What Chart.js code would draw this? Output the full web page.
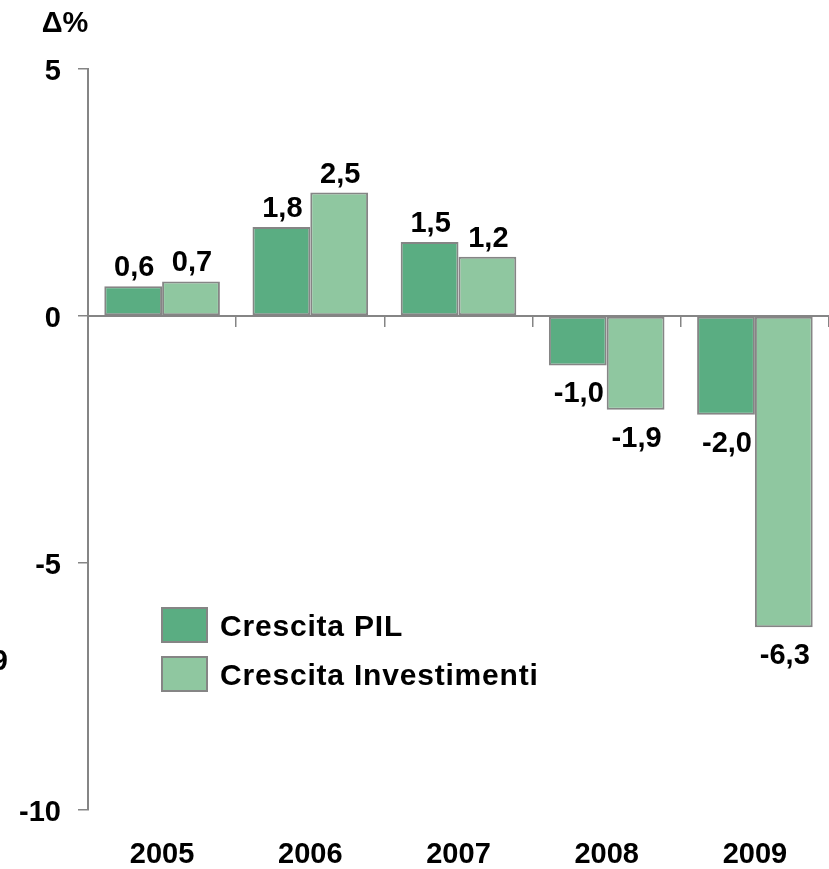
<!DOCTYPE html>
<html>
<head>
<meta charset="utf-8">
<script src="https://cdn.jsdelivr.net/npm/chart.js@4.4.0/dist/chart.umd.min.js"></script>
<style>
    body { margin: 0; background: #fff; }
    .chart-box { position: relative; width: 829px; height: 869px; overflow: hidden; }
</style>
</head>
<body>
<div class="chart-box">
    <canvas id="growth-chart"></canvas>
</div>
<script>
const years = ["2005", "2006", "2007", "2008", "2009"];
const pil_growth = [0.6, 1.8, 1.5, -1.0, -2.0];
const invest_growth = [0.7, 2.5, 1.2, -1.9, -6.3];
const series_names = ["Crescita PIL", "Crescita Investimenti"];
const y_ticks = [-10, -5, 0, 5];

const FONT = '"Liberation Sans", Arial, sans-serif';
const AXIS_GREY = "#858585";

Chart.defaults.font.family = FONT;
Chart.defaults.color = "#000";

// value labels over / under each bar, italian decimal comma
const barLabels = {
    id: "barLabels",
    afterDatasetsDraw(chart) {
        const ctx = chart.ctx;
        ctx.save();
        ctx.font = "bold 29px " + FONT;
        ctx.fillStyle = "#000";
        ctx.textAlign = "center";
        ctx.textBaseline = "alphabetic";
        chart.data.datasets.forEach((ds, i) => {
            chart.getDatasetMeta(i).data.forEach((bar, j) => {
                const v = ds.data[j];
                const txt = v.toFixed(1).replace(".", ",");
                const y = v >= 0 ? bar.y - 10 : bar.y + 37;
                ctx.fillText(txt, bar.x + 1, y);
            });
        });
        ctx.restore();
    }
};

// legend sits inside the plot, lower left
const innerLegend = {
    id: "innerLegend",
    afterDraw(chart) {
        const ctx = chart.ctx;
        const area = chart.chartArea;
        ctx.save();
        ctx.font = "bold 30px " + FONT;
        ctx.letterSpacing = "0.8px";
        ctx.textBaseline = "middle";
        ctx.textAlign = "left";
        chart.data.datasets.forEach((ds, i) => {
            const x = area.left + 74;
            const y = 608 + i * 49;
            ctx.fillStyle = ds.backgroundColor;
            ctx.fillRect(x, y, 45, 34);
            ctx.strokeStyle = AXIS_GREY;
            ctx.lineWidth = 2;
            ctx.strokeRect(x, y, 45, 34);
            ctx.fillStyle = "#000";
            ctx.fillText(ds.label, x + 58, y + 20);
        });
        ctx.letterSpacing = "0px";

        // unit label above the y axis
        ctx.font = "bold 29px " + FONT;
        ctx.textAlign = "center";
        ctx.textBaseline = "alphabetic";
        ctx.fillText("Δ%", 65, 32);

        // clipped leftover label at the left edge
        ctx.textAlign = "right";
        ctx.fillText("9", 8, 670);
        ctx.restore();
    }
};

const ctx = document.getElementById("growth-chart");

new Chart(ctx, {
    type: "bar",
    data: {
        labels: years,
        datasets: [{
            label: series_names[0],
            data: pil_growth,
            backgroundColor: "#5aad82",
            borderColor: AXIS_GREY,
            borderWidth: 2,
            borderSkipped: false
        }, {
            label: series_names[1],
            data: invest_growth,
            backgroundColor: "#8fc7a0",
            borderColor: AXIS_GREY,
            borderWidth: 2,
            borderSkipped: false
        }]
    },
    options: {
        responsive: true,
        maintainAspectRatio: false,
        animation: false,
        categoryPercentage: 0.78,
        barPercentage: 1.0,
        layout: {
            padding: { top: 69, right: 0, bottom: 0, left: 0 }
        },
        plugins: {
            legend: { display: false },
            tooltip: { enabled: false }
        },
        scales: {
            x: {
                position: "bottom",
                grid: { display: false, drawTicks: false },
                border: { display: false },
                ticks: {
                    padding: 28,
                    font: { size: 29, weight: "bold" }
                },
                afterFit: (scale) => { scale.height = 59; }
            },
            // zero line with category tick marks
            x2: {
                type: "category",
                axis: "x",
                position: { y: 0 },
                offset: true,
                labels: years,
                grid: {
                    offset: true,
                    drawOnChartArea: false,
                    drawTicks: true,
                    tickLength: 10,
                    color: AXIS_GREY,
                    lineWidth: 1.5
                },
                border: { display: true, color: AXIS_GREY, width: 2 },
                ticks: { display: false }
            },
            y: {
                min: -10,
                max: 5,
                afterBuildTicks: (scale) => {
                    scale.ticks = y_ticks.map(v => ({ value: v }));
                },
                grid: {
                    drawOnChartArea: false,
                    drawTicks: true,
                    tickLength: 10,
                    color: AXIS_GREY,
                    lineWidth: 1.5
                },
                border: { display: true, color: AXIS_GREY, width: 2 },
                ticks: {
                    padding: 17,
                    labelOffset: 3,
                    font: { size: 29, weight: "bold" },
                    callback: (v) => String(v)
                },
                afterFit: (scale) => { scale.width = 88; }
            }
        }
    },
    plugins: [barLabels, innerLegend]
});
</script>
</body>
</html>
